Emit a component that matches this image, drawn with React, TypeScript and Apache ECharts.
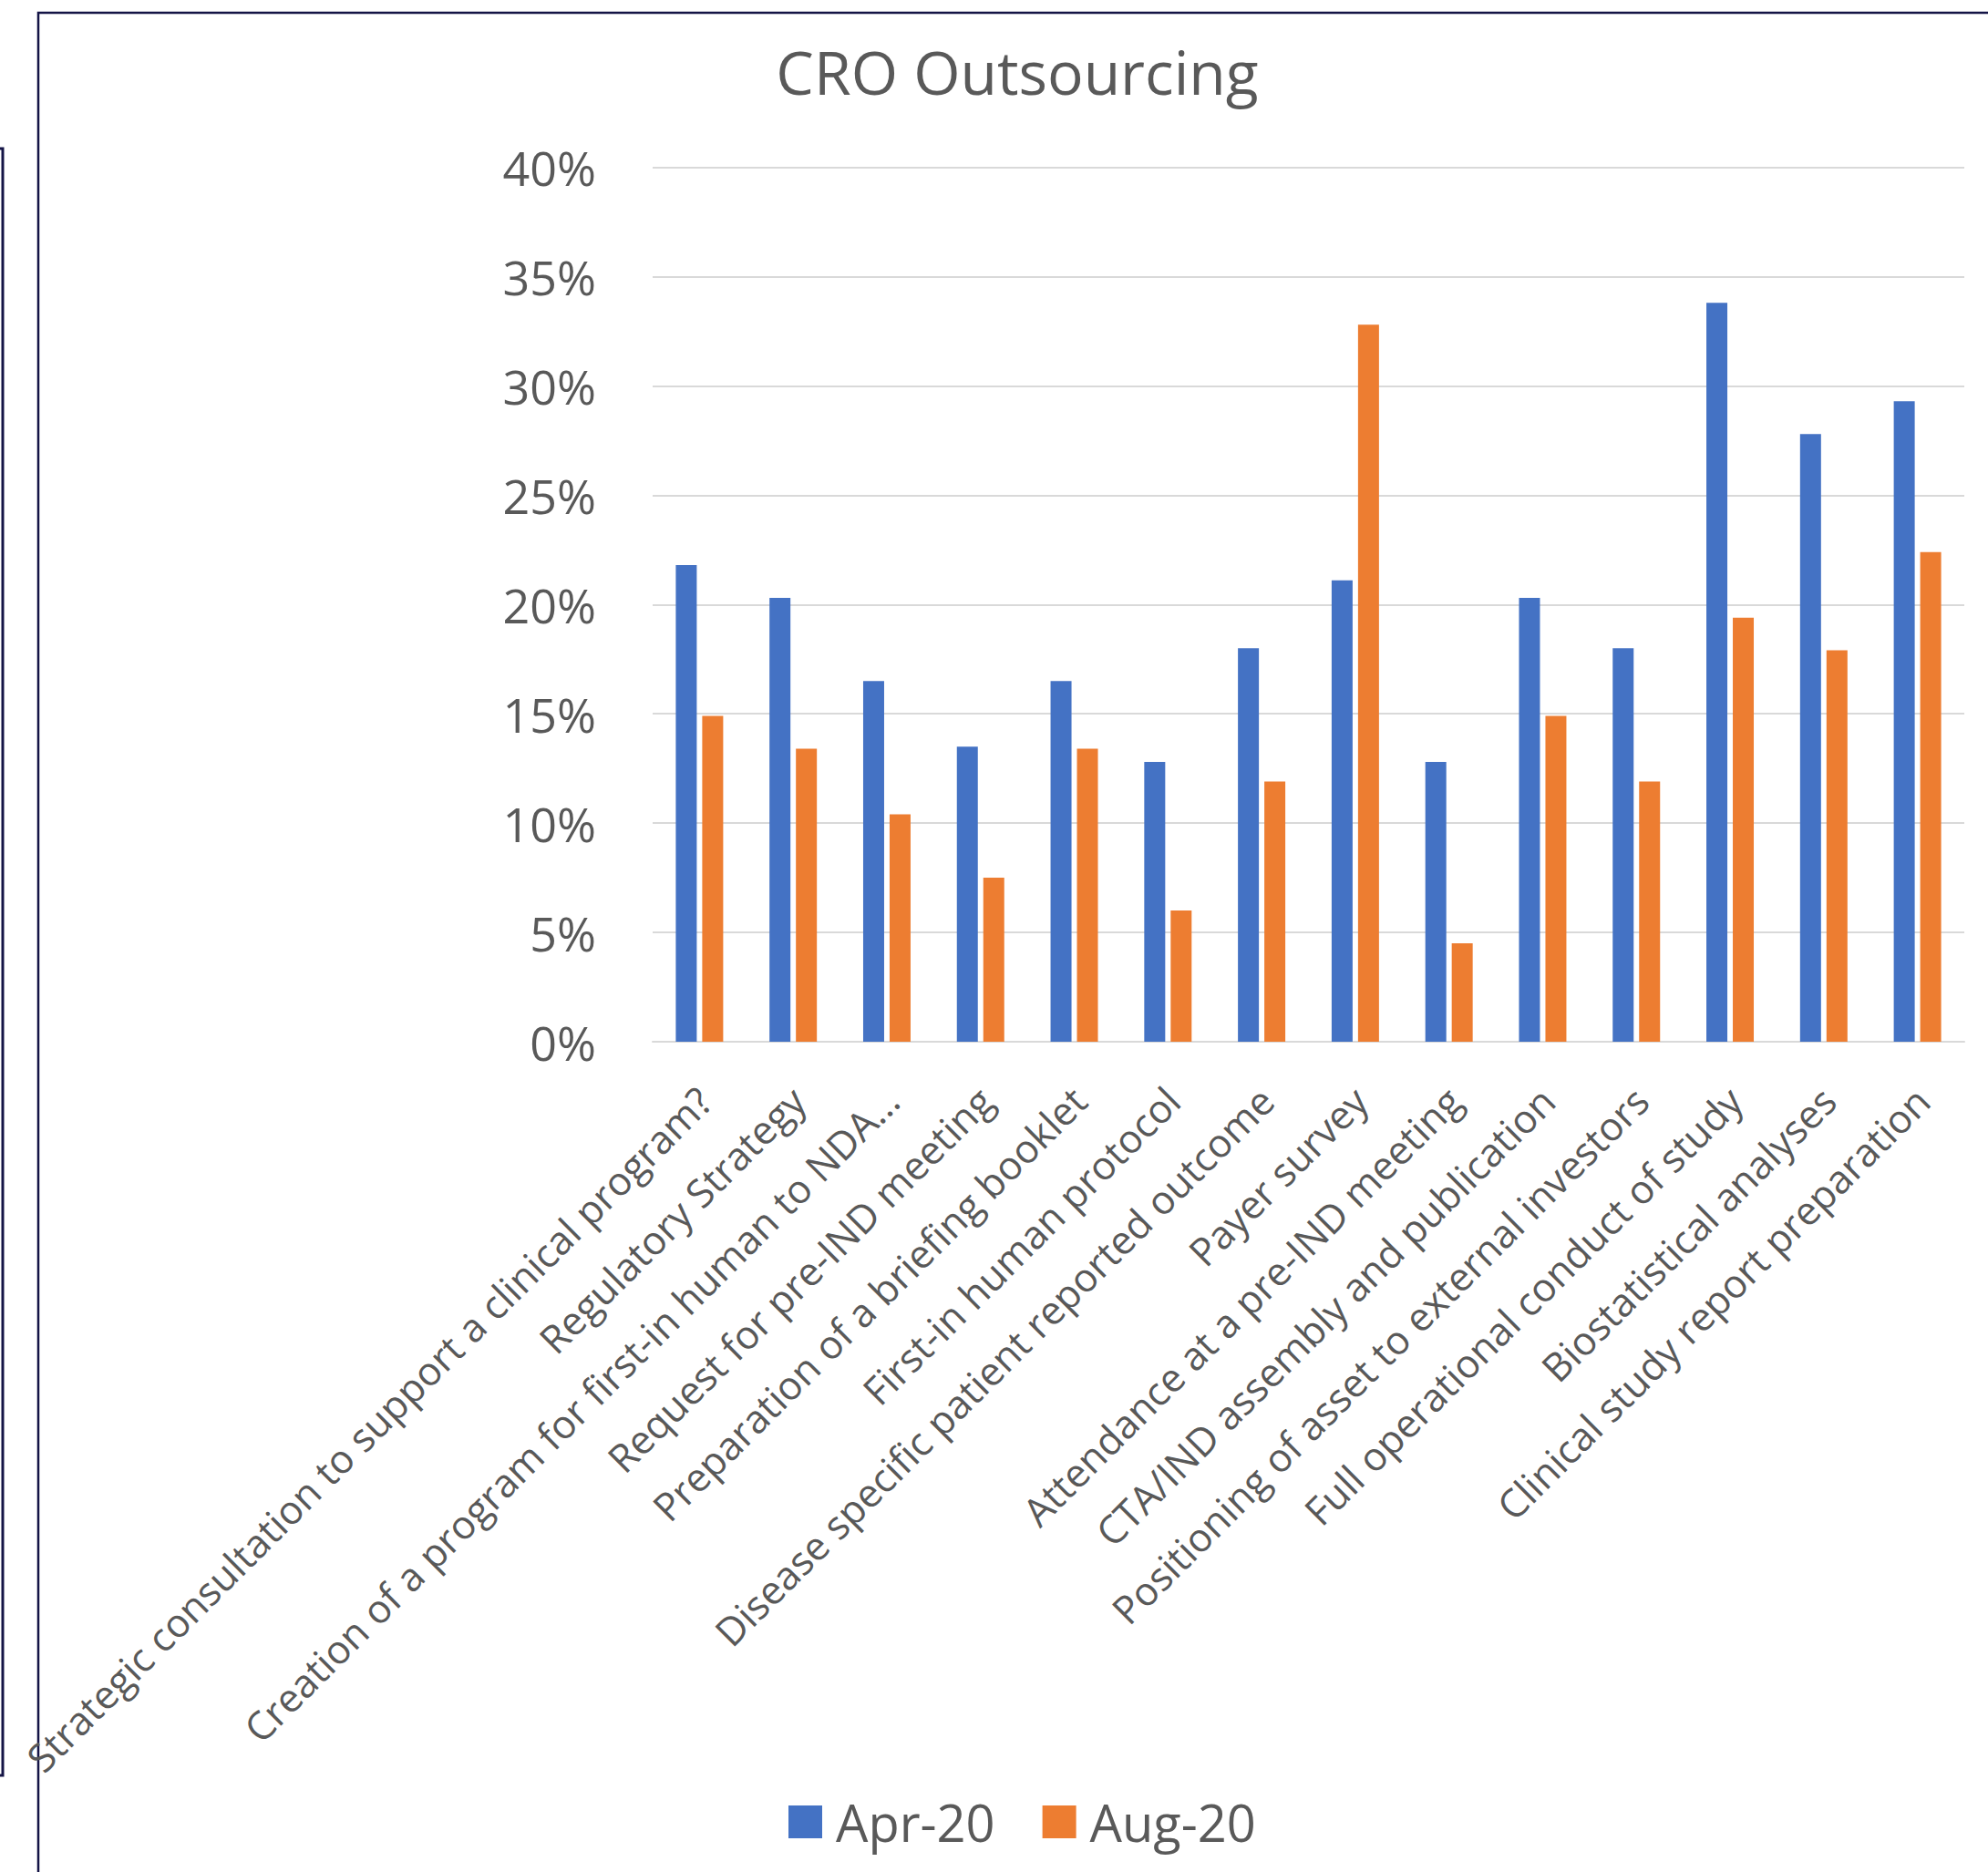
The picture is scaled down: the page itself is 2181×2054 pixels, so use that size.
import React, { useEffect, useRef } from "react";
import * as echarts from "echarts";

const categories = [
  "Strategic consultation to support a clinical program?",
  "Regulatory Strategy",
  "Creation of a program for first-in human to NDA…",
  "Request for pre-IND meeting",
  "Preparation of a briefing booklet",
  "First-in human protocol",
  "Disease specific patient reported outcome",
  "Payer survey",
  "Attendance at a pre-IND meeting",
  "CTA/IND assembly and publication",
  "Positioning of asset to external investors",
  "Full operational conduct of study",
  "Biostatistical analyses",
  "Clinical study report preparation",
];

const apr20 = [21.8, 20.3, 16.5, 13.5, 16.5, 12.8, 18.0, 21.1, 12.8, 20.3, 18.0, 33.8, 27.8, 29.3];
const aug20 = [14.9, 13.4, 10.4, 7.5, 13.4, 6.0, 11.9, 32.8, 4.5, 14.9, 11.9, 19.4, 17.9, 22.4];

const seriesNames = ["Apr-20", "Aug-20"];
const yMin = 0;
const yMax = 40;
const yStep = 5;

const FONT = "'Open Sans', sans-serif";
const TEXT = "#595959";
const GRID = "#D9D9D9";
const FRAME = "#141446";

export default function App() {
  const ref = useRef<HTMLDivElement>(null);
  useEffect(() => {
    const chart = echarts.init(ref.current!, null, { renderer: "svg" });
    chart.setOption({
      animation: false,
      backgroundColor: "#ffffff",
      title: {
        text: "CRO Outsourcing",
        left: 1111,
        top: 40,
        textAlign: "center",
        textStyle: { fontFamily: FONT, fontSize: 66, fontWeight: "normal", color: TEXT },
      },
      legend: {
        data: seriesNames,
        left: 860,
        top: 1966,
        icon: "rect",
        itemWidth: 37,
        itemHeight: 36,
        itemGap: 52,
        textStyle: { fontFamily: FONT, fontSize: 56, color: TEXT, padding: [0, 0, 0, 10] },
      },
      grid: { left: 716, right: 26, top: 183.5, bottom: 911, containLabel: false },
      xAxis: {
        type: "category",
        data: categories,
        axisTick: { show: false },
        axisLine: { lineStyle: { color: GRID, width: 2 } },
        axisLabel: {
          interval: 0,
          rotate: 45,
          margin: 32,
          padding: [0, 14, 0, 0],
          verticalAlign: "top",
          fontFamily: FONT,
          fontSize: 43,
          color: TEXT,
        },
      },
      yAxis: {
        type: "value",
        min: yMin,
        max: yMax,
        interval: yStep,
        axisLine: { show: false },
        axisTick: { show: false },
        splitLine: { lineStyle: { color: GRID, width: 2 } },
        axisLabel: {
          formatter: "{value}%",
          margin: 62,
          fontFamily: FONT,
          fontSize: 52,
          color: TEXT,
        },
      },
      series: [
        {
          name: seriesNames[0],
          type: "bar",
          data: apr20,
          barWidth: 23,
          barGap: "26%",
          itemStyle: { color: "#4472C4" },
        },
        {
          name: seriesNames[1],
          type: "bar",
          data: aug20,
          barWidth: 23,
          barGap: "26%",
          itemStyle: { color: "#ED7D31" },
        },
      ],
      graphic: [
        {
          type: "rect",
          shape: { x: 42, y: 14, width: 2300, height: 2200 },
          style: { fill: "none", stroke: FRAME, lineWidth: 2.5 },
          silent: true,
        },
        {
          type: "rect",
          shape: { x: -30, y: 163, width: 33, height: 1785 },
          style: { fill: "none", stroke: FRAME, lineWidth: 3 },
          silent: true,
        },
      ],
    });
    return () => chart.dispose();
  }, []);
  return (
    <div
      ref={ref}
      style={{ position: "fixed", left: 0, top: 0, width: 2181, height: 2054, background: "#fff" }}
    />
  );
}
